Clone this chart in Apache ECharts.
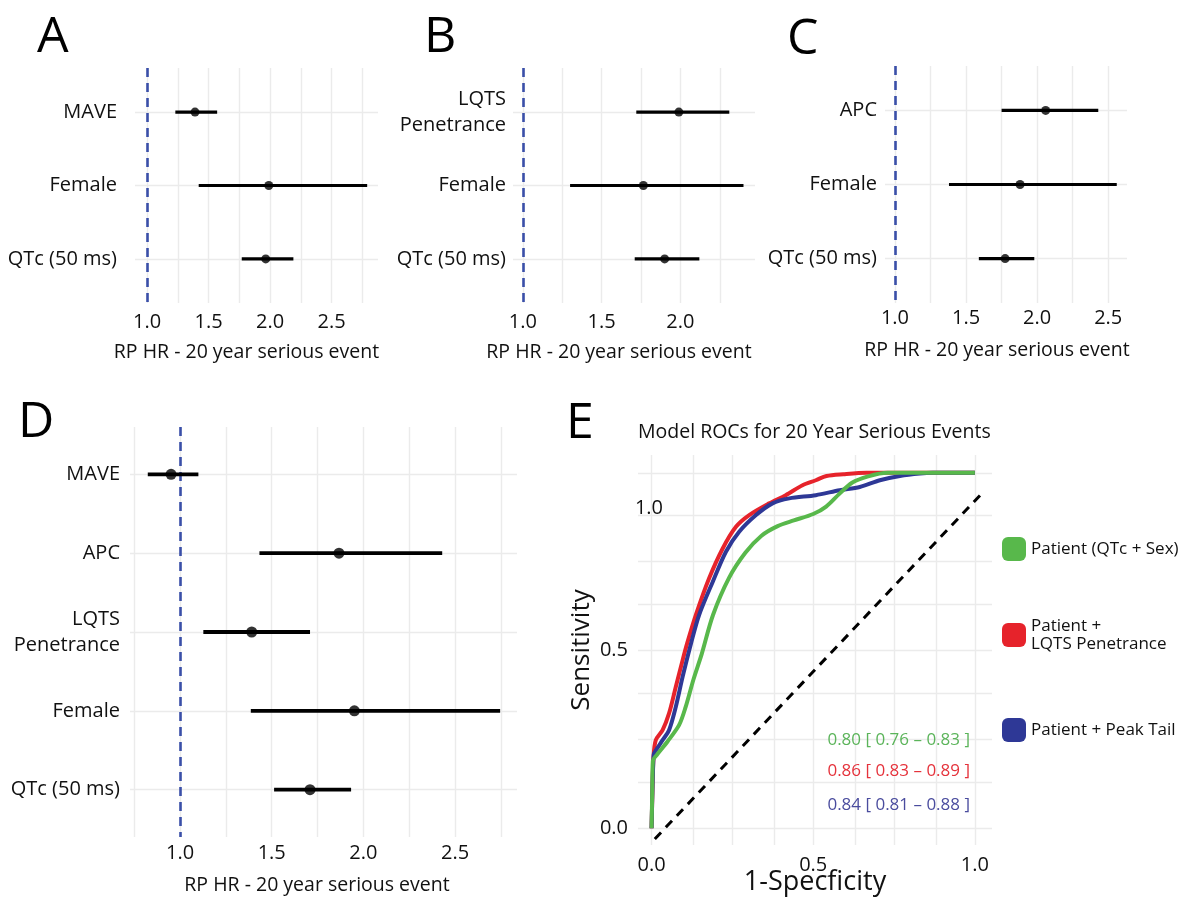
<!DOCTYPE html>
<html><head><meta charset="utf-8">
<script src="https://cdn.jsdelivr.net/npm/echarts@6/dist/echarts.min.js"></script>
<style>html,body{margin:0;padding:0;background:#fff}#c{width:1179px;height:899px}</style>
</head><body><div id="c"></div>
<script>
// ---------- DATA ----------
const xTitle = 'RP HR - 20 year serious event';
// Panel A
const aLabels = ['MAVE', 'Female', 'QTc (50 ms)'];
const aEst = [1.39, 1.99, 1.965];
const aLo = [1.23, 1.42, 1.77];
const aHi = [1.57, 2.79, 2.19];
const aTicks = [1.0, 1.5, 2.0, 2.5];
const aGrid = [1.0, 1.25, 1.5, 1.75, 2.0, 2.25, 2.5, 2.75];
// Panel B
const bLabels = ['LQTS\nPenetrance', 'Female', 'QTc (50 ms)'];
const bEst = [1.99, 1.765, 1.90];
const bLo = [1.72, 1.30, 1.71];
const bHi = [2.31, 2.40, 2.12];
const bTicks = [1.0, 1.5, 2.0];
const bGrid = [1.0, 1.25, 1.5, 1.75, 2.0, 2.25];
// Panel C
const cLabels = ['APC', 'Female', 'QTc (50 ms)'];
const cEst = [2.06, 1.88, 1.775];
const cLo = [1.75, 1.38, 1.59];
const cHi = [2.43, 2.56, 1.98];
const cTicks = [1.0, 1.5, 2.0, 2.5];
const cGrid = [1.0, 1.25, 1.5, 1.75, 2.0, 2.25, 2.5];
// Panel D
const dLabels = ['MAVE', 'APC', 'LQTS\nPenetrance', 'Female', 'QTc (50 ms)'];
const dEst = [0.951, 1.867, 1.391, 1.951, 1.709];
const dLo = [0.824, 1.433, 1.127, 1.386, 1.513];
const dHi = [1.10, 2.43, 1.709, 2.746, 1.933];
const dTicks = [1.0, 1.5, 2.0, 2.5];
const dGrid = [0.75, 1.0, 1.25, 1.5, 1.75, 2.0, 2.25, 2.5, 2.75];
// Panel E (ROC curves: [1-specificity, sensitivity])
const rocPatient = [[0,0],[0.002,0.10],[0.004,0.19],[0.013,0.203],[0.05,0.245],[0.085,0.29],[0.105,0.34],[0.13,0.42],[0.155,0.49],[0.19,0.60],[0.24,0.705],[0.29,0.775],[0.34,0.823],[0.39,0.85],[0.44,0.866],[0.50,0.884],[0.54,0.905],[0.58,0.94],[0.62,0.972],[0.67,0.99],[0.73,1.0],[1.0,1.0]];
const rocPenetrance = [[0,0],[0.003,0.12],[0.006,0.20],[0.013,0.248],[0.034,0.276],[0.054,0.323],[0.075,0.398],[0.096,0.473],[0.11,0.52],[0.137,0.60],[0.178,0.703],[0.22,0.787],[0.261,0.848],[0.302,0.881],[0.364,0.914],[0.415,0.937],[0.467,0.965],[0.508,0.979],[0.541,0.991],[0.593,0.996],[0.665,1.0],[1.0,1.0]];
const rocPeakTail = [[0,0],[0.003,0.12],[0.006,0.20],[0.008,0.211],[0.034,0.248],[0.054,0.276],[0.075,0.342],[0.096,0.426],[0.122,0.52],[0.147,0.60],[0.189,0.693],[0.23,0.778],[0.271,0.834],[0.323,0.881],[0.374,0.914],[0.426,0.928],[0.508,0.937],[0.582,0.951],[0.644,0.96],[0.706,0.979],[0.768,0.991],[0.83,0.998],[0.87,1.0],[1.0,1.0]];
const rocDiagonal = [[0.01,-0.03],[1.03,0.95]];
const rocNames = ['Patient (QTc + Sex)', 'Patient +\nLQTS Penetrance', 'Patient + Peak Tail'];
const rocAUC = ['0.80 [ 0.76 \u2013 0.83 ]', '0.86 [ 0.83 \u2013 0.89 ]', '0.84 [ 0.81 \u2013 0.88 ]'];
const eXTicks = [0, 0.5, 1.0];
const eYTicks = [0, 0.5];
const eGrid = [0, 0.125, 0.25, 0.375, 0.5, 0.625, 0.75, 0.875, 1.0];

// ---------- STYLE ----------
const FONT = "'Open Sans', 'Noto Sans', sans-serif";
const TXT = '#111';
const GRIDC = '#EBEBEB';
const COL_G = '#58B84B', COL_R = '#E6232B', COL_B = '#2E3896';
const FS = 20;

const grids = [], xAxes = [], yAxes = [], series = [];

function forest(i, cfg) {
  const n = cfg.labels.length;
  grids.push({left: cfg.left, top: cfg.top, width: cfg.width, height: cfg.height, containLabel: false, outerBoundsMode: 'none'});
  xAxes.push({
    gridIndex: i, type: 'value', min: cfg.xMin, max: cfg.xMax,
    axisLine: {show: false}, axisTick: {show: false}, splitLine: {show: false},
    axisLabel: {customValues: cfg.ticks, formatter: v => Number(v).toFixed(1), margin: cfg.tickMargin, fontSize: FS, color: TXT, fontFamily: FONT},
    name: xTitle, nameLocation: 'middle', nameGap: cfg.nameGap, nameMoveOverlap: false,
    nameTextStyle: {fontSize: 19.5, color: TXT, fontFamily: FONT, padding: [0, cfg.titleShift, 0, 0]}
  });
  yAxes.push({
    gridIndex: i, type: 'value', inverse: true, min: -0.6, max: n - 0.4,
    axisLine: {show: false}, axisTick: {show: false}, splitLine: {show: false},
    axisLabel: {customValues: cfg.labels.map((_, k) => k), formatter: v => cfg.labels[Math.round(v)] || '',
      margin: cfg.labelMargin, fontSize: FS, color: TXT, fontFamily: FONT, lineHeight: 26, align: 'right'}
  });
  series.push({
    type: 'line', xAxisIndex: i, yAxisIndex: i, data: [], silent: true,
    markLine: {silent: true, z: 1, symbol: ['none', 'none'], label: {show: false}, animation: false,
      lineStyle: {color: GRIDC, width: 1.4, type: 'solid'}, emphasis: {disabled: true},
      data: cfg.grid.map(v => ({xAxis: v})).concat(cfg.labels.map((_, k) => ({yAxis: k})))}
  });
  series.push({
    type: 'line', xAxisIndex: i, yAxisIndex: i, data: [], silent: true,
    markLine: {silent: true, z: 2, symbol: ['none', 'none'], label: {show: false}, animation: false,
      lineStyle: {color: '#3A4FA8', width: 2.6, type: [9, 6]}, emphasis: {disabled: true},
      data: [{xAxis: 1}]}
  });
  series.push({
    type: 'custom', xAxisIndex: i, yAxisIndex: i, z: 3, silent: true,
    data: cfg.lo.map((l, k) => [l, cfg.hi[k], k]),
    encode: {x: [0, 1], y: 2},
    renderItem: (params, api) => {
      const p1 = api.coord([api.value(0), api.value(2)]);
      const p2 = api.coord([api.value(1), api.value(2)]);
      return {type: 'line', shape: {x1: p1[0], y1: p1[1], x2: p2[0], y2: p2[1]}, style: {stroke: '#000', lineWidth: cfg.lw}};
    }
  });
  series.push({
    type: 'scatter', xAxisIndex: i, yAxisIndex: i, z: 4, silent: true,
    data: cfg.est.map((e, k) => [e, k]), symbolSize: cfg.dot, itemStyle: {color: '#000'}
  });
}

forest(0, {labels: aLabels, est: aEst, lo: aLo, hi: aHi, ticks: aTicks, grid: aGrid,
  left: 135, top: 68, width: 243, height: 235, xMin: 0.902, xMax: 2.878,
  labelMargin: 18, tickMargin: 9, nameGap: 39, titleShift: 20, lw: 3.2, dot: 9});
forest(1, {labels: bLabels, est: bEst, lo: bLo, hi: bHi, ticks: bTicks, grid: bGrid,
  left: 513, top: 68, width: 242, height: 235, xMin: 0.938, xMax: 2.473,
  labelMargin: 7, tickMargin: 9, nameGap: 39, titleShift: 30, lw: 3.2, dot: 9});
forest(2, {labels: cLabels, est: cEst, lo: cLo, hi: cHi, ticks: cTicks, grid: cGrid,
  left: 885, top: 66, width: 242, height: 237, xMin: 0.930, xMax: 2.632,
  labelMargin: 8, tickMargin: 5, nameGap: 37, titleShift: 18, lw: 3.2, dot: 9});
forest(3, {labels: dLabels, est: dEst, lo: dLo, hi: dHi, ticks: dTicks, grid: dGrid,
  left: 130, top: 427, width: 387, height: 410, xMin: 0.727, xMax: 2.838,
  labelMargin: 10, tickMargin: 6, nameGap: 38, titleShift: 13, lw: 3.8, dot: 11});

// Panel E
grids.push({left: 638, top: 455, width: 354, height: 390, containLabel: false, outerBoundsMode: 'none'});
xAxes.push({
  gridIndex: 4, type: 'value', min: -0.042, max: 1.053,
  axisLine: {show: false}, axisTick: {show: false}, splitLine: {show: false},
  axisLabel: {customValues: eXTicks, formatter: v => Number(v).toFixed(1), margin: 10, fontSize: FS, color: TXT, fontFamily: FONT},
  name: '1-Specficity', nameLocation: 'middle', nameGap: 24, nameMoveOverlap: false,
  nameTextStyle: {fontSize: 27, color: TXT, fontFamily: FONT}
});
yAxes.push({
  gridIndex: 4, type: 'value', min: -0.047, max: 1.05,
  axisLine: {show: false}, axisTick: {show: false}, splitLine: {show: false},
  axisLabel: {customValues: eYTicks, formatter: v => Number(v).toFixed(1), margin: 10, fontSize: FS, color: TXT, fontFamily: FONT},
  name: 'Sensitivity', nameLocation: 'middle', nameGap: 43, nameRotate: 90, nameMoveOverlap: false,
  nameTextStyle: {fontSize: 26, color: TXT, fontFamily: FONT}
});
series.push({
  type: 'line', xAxisIndex: 4, yAxisIndex: 4, data: [], silent: true,
  markLine: {silent: true, z: 1, symbol: ['none', 'none'], label: {show: false}, animation: false,
    lineStyle: {color: GRIDC, width: 1.4, type: 'solid'}, emphasis: {disabled: true},
    data: eGrid.map(v => ({xAxis: v})).concat(eGrid.map(v => ({yAxis: v})))}
});
series.push({
  type: 'line', xAxisIndex: 4, yAxisIndex: 4, z: 3, silent: true, showSymbol: false,
  data: rocDiagonal, lineStyle: {color: '#000', width: 3, type: [9, 7]}
});
series.push({name: rocNames[1], type: 'line', xAxisIndex: 4, yAxisIndex: 4, z: 4, silent: true, showSymbol: false, smooth: 0.3,
  data: rocPenetrance, color: COL_R, lineStyle: {color: COL_R, width: 4}});
series.push({name: rocNames[2], type: 'line', xAxisIndex: 4, yAxisIndex: 4, z: 5, silent: true, showSymbol: false, smooth: 0.3,
  data: rocPeakTail, color: COL_B, lineStyle: {color: COL_B, width: 4}});
series.push({name: rocNames[0], type: 'line', xAxisIndex: 4, yAxisIndex: 4, z: 6, silent: true, showSymbol: false, smooth: 0.3,
  data: rocPatient, color: COL_G, lineStyle: {color: COL_G, width: 4}});

const legendCommon = {orient: 'vertical', padding: 0, itemWidth: 24, itemHeight: 24, icon: 'roundRect', selectedMode: false,
  textStyle: {fontSize: 17, color: TXT, fontFamily: FONT, lineHeight: 18}};
const legends = [
  Object.assign({}, legendCommon, {left: 1002, top: 537, data: [rocNames[0]]}),
  Object.assign({}, legendCommon, {left: 1002, top: 611, data: [rocNames[1]],
    textStyle: Object.assign({}, legendCommon.textStyle, {padding: [12, 0, 0, 0]})}),
  Object.assign({}, legendCommon, {left: 1002, top: 718, data: [rocNames[2]]})
];

function txt(x, y, s, size, color, align) {
  return {type: 'text', x: x, y: y, z: 20, silent: true,
    style: {text: s, fontSize: size, fill: color, fontFamily: FONT, align: align || 'left', verticalAlign: 'middle'}};
}
const graphics = [
  txt(37, 38, 'A', 50, '#000'),
  txt(424, 38, 'B', 50, '#000'),
  txt(787, 40, 'C', 50, '#000'),
  txt(18, 423, 'D', 50, '#000'),
  txt(566, 424, 'E', 50, '#000'),
  txt(638, 432, 'Model ROCs for 20 Year Serious Events', 19.5, TXT),
  txt(663, 508, '1.0', FS, TXT, 'right'),
  txt(970, 740, rocAUC[0], 17, '#5BB45A', 'right'),
  txt(970, 771, rocAUC[1], 17, '#E5323B', 'right'),
  txt(970, 805, rocAUC[2], 17, '#4A4C9E', 'right')
];

const chart = echarts.init(document.getElementById('c'), null, {renderer: 'canvas'});
chart.setOption({
  animation: false,
  backgroundColor: '#fff',
  textStyle: {fontFamily: FONT},
  grid: grids, xAxis: xAxes, yAxis: yAxes, series: series,
  legend: legends,
  graphic: graphics
});
</script>
</body></html>
